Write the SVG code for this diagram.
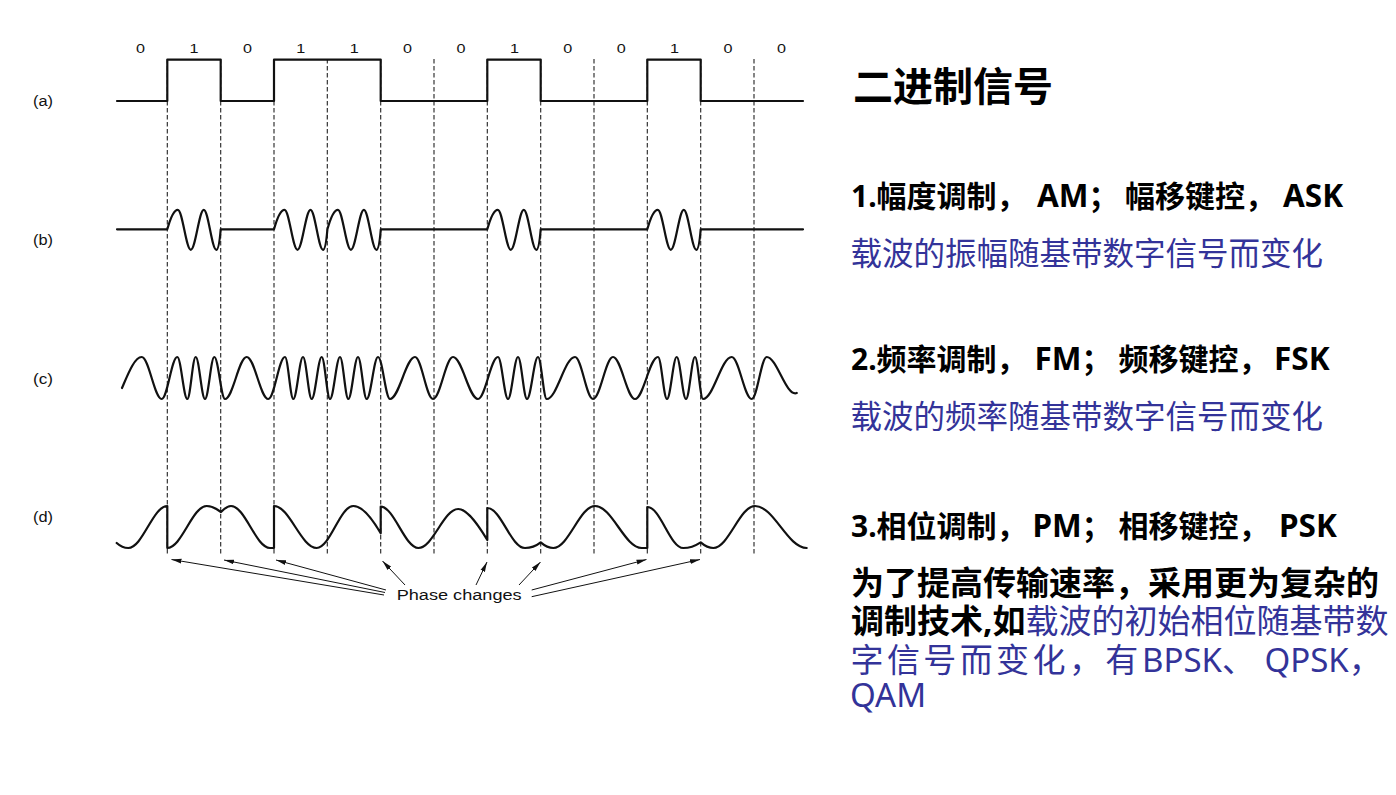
<svg xmlns="http://www.w3.org/2000/svg" width="1396" height="795" viewBox="0 0 1396 795">
<defs>
<style>
.wave{fill:none;stroke:#111;stroke-width:2.2;stroke-linejoin:round;stroke-linecap:round}
.guide{stroke:#222;stroke-width:1.1;stroke-dasharray:4.5 2.5}
.arr{stroke:#111;stroke-width:1;fill:none}
.lab{font-family:'Liberation Sans',Arial,sans-serif;font-size:14px;fill:#111}
.bit{font-family:'Liberation Sans',Arial,sans-serif;font-size:13px;fill:#111;text-anchor:middle}
.cn{font-family:'Noto Sans','Noto Sans CJK SC',sans-serif}
.bold{font-weight:bold;fill:#000}
.blue{fill:#333399;font-weight:normal}
.lat{font-size:31.5px}
</style>
<marker id="ah" markerWidth="10" markerHeight="6" refX="10" refY="3" orient="auto" markerUnits="userSpaceOnUse">
<path d="M0,0.6 L10,3 L0,5.4 z" fill="#111"/>
</marker>
</defs>
<rect width="1396" height="795" fill="#fff"/>

<g id="guides">
<line class="guide" x1="167.3" y1="59" x2="167.3" y2="556"/>
<line class="guide" x1="220.7" y1="59" x2="220.7" y2="556"/>
<line class="guide" x1="274" y1="59" x2="274" y2="556"/>
<line class="guide" x1="327.3" y1="59" x2="327.3" y2="556"/>
<line class="guide" x1="380.7" y1="59" x2="380.7" y2="556"/>
<line class="guide" x1="434" y1="59" x2="434" y2="556"/>
<line class="guide" x1="487.3" y1="59" x2="487.3" y2="556"/>
<line class="guide" x1="540.7" y1="59" x2="540.7" y2="556"/>
<line class="guide" x1="594" y1="59" x2="594" y2="556"/>
<line class="guide" x1="647.3" y1="59" x2="647.3" y2="556"/>
<line class="guide" x1="700.7" y1="59" x2="700.7" y2="556"/>
<line class="guide" x1="754" y1="59" x2="754" y2="556"/>
</g>

<g id="bits">
<text class="bit" x="140.6" y="53" textLength="9" lengthAdjust="spacingAndGlyphs">0</text>
<text class="bit" x="194" y="53" textLength="9" lengthAdjust="spacingAndGlyphs">1</text>
<text class="bit" x="247.4" y="53" textLength="9" lengthAdjust="spacingAndGlyphs">0</text>
<text class="bit" x="300.8" y="53" textLength="9" lengthAdjust="spacingAndGlyphs">1</text>
<text class="bit" x="354.2" y="53" textLength="9" lengthAdjust="spacingAndGlyphs">1</text>
<text class="bit" x="407.6" y="53" textLength="9" lengthAdjust="spacingAndGlyphs">0</text>
<text class="bit" x="461" y="53" textLength="9" lengthAdjust="spacingAndGlyphs">0</text>
<text class="bit" x="514.4" y="53" textLength="9" lengthAdjust="spacingAndGlyphs">1</text>
<text class="bit" x="567.8" y="53" textLength="9" lengthAdjust="spacingAndGlyphs">0</text>
<text class="bit" x="621.2" y="53" textLength="9" lengthAdjust="spacingAndGlyphs">0</text>
<text class="bit" x="674.6" y="53" textLength="9" lengthAdjust="spacingAndGlyphs">1</text>
<text class="bit" x="728" y="53" textLength="9" lengthAdjust="spacingAndGlyphs">0</text>
<text class="bit" x="781.4" y="53" textLength="9" lengthAdjust="spacingAndGlyphs">0</text>
</g>

<g id="signal-a">
<text class="lab" x="33" y="106.4" textLength="20" lengthAdjust="spacingAndGlyphs">(a)</text>
<path class="wave" d="M117 101 H167.3 V59.7 H220.7 V101 H274 V59.7 H380.7 V101 H487.3 V59.7 H540.7 V101 H647.3 V59.7 H700.7 V101 H803"/>
</g>

<g id="signal-b">
<text class="lab" x="33" y="245.4" textLength="20" lengthAdjust="spacingAndGlyphs">(b)</text>
<path class="wave" d="M117 229.3 H167.3 c2.5 -9 6.5 -19.5 10.5 -19.5 c4.7 0 8.3 40 13 40 c4.7 0 8.3 -40 13 -40 c4.5 0 8 40 12.5 40 c2 0 3.5 -10 4.4 -20.5 H274 c2.5 -9 6.5 -19.5 10.5 -19.5 c4.7 0 8.3 40 13 40 c4.7 0 8.3 -40 13 -40 c4.5 0 8 40 12.5 40 c2 0 3.5 -10 4.4 -20.5 c2.5 -9 6.5 -19.5 10.5 -19.5 c4.7 0 8.3 40 13 40 c4.7 0 8.3 -40 13 -40 c4.5 0 8 40 12.5 40 c2 0 3.5 -10 4.4 -20.5 H487.3 c2.5 -9 6.5 -19.5 10.5 -19.5 c4.7 0 8.3 40 13 40 c4.7 0 8.3 -40 13 -40 c4.5 0 8 40 12.5 40 c2 0 3.5 -10 4.4 -20.5 H647.3 c2.5 -9 6.5 -19.5 10.5 -19.5 c4.7 0 8.3 40 13 40 c4.7 0 8.3 -40 13 -40 c4.5 0 8 40 12.5 40 c2 0 3.5 -10 4.4 -20.5 H803"/>
</g>

<g id="signal-c">
<text class="lab" x="33" y="383.8" textLength="20" lengthAdjust="spacingAndGlyphs">(c)</text>
<path class="wave" d="M122 388 C128 374 134.5 357 141.7 357 C149 357 154.4 399 161.7 399 C167.4 399 171.6 357 177.3 357 C180.9 357 183.7 399 187.3 399 C190.4 399 192.6 357 195.7 357 C199.1 357 201.6 399 205 399 C208.4 399 210.9 357 214.3 357 C218.2 357 221.1 399 225 399 C232.9 399 238.8 357 246.7 357 C254.6 357 260.4 399 268.3 399 C274.4 399 278.9 357 285 357 C288 357 290.3 399 293.3 399 C296.8 399 299.5 357 303 357 C306.2 357 308.5 399 311.7 399 C315.3 399 318.1 357 321.7 357 C324.7 357 327 399 330 399 C333.6 399 336.4 357 340 357 C343 357 345.3 399 348.3 399 C351.8 399 354.5 357 358 357 C361.2 357 363.5 399 366.7 399 C370.8 399 373.9 357 378 357 C382.4 357 385.6 399 390 399 C399.1 399 405.9 357 415 357 C421.6 357 426.4 399 433 399 C440.3 399 445.7 357 453 357 C462.1 357 468.9 399 478 399 C485.3 399 490.7 357 498 357 C501.6 357 504.4 399 508 399 C511.6 399 514.4 357 518 357 C521.3 357 523.7 399 527 399 C531 399 534 357 538 357 C541.2 357 543.5 399 546.7 399 C557 399 564.7 357 575 357 C581.6 357 586.4 399 593 399 C600.3 399 605.7 357 613 357 C621 357 627 399 635 399 C643.4 399 649.6 357 658 357 C661.3 357 663.7 399 667 399 C670.5 399 673.2 357 676.7 357 C680.1 357 682.6 399 686 399 C689.3 399 691.7 357 695 357 C697.9 357 700.1 399 703 399 C713.4 399 721.3 357 731.7 357 C739 357 744.4 399 751.7 399 C757.2 399 761.2 357 766.7 357 C777 357 786 397 796.7 393"/>
</g>

<g id="signal-d">
<text class="lab" x="33" y="522" textLength="20" lengthAdjust="spacingAndGlyphs">(d)</text>
<path class="wave" d="M116.7 543 C120 546 124 548 128.3 548 C142.5 548 153 506 167.3 506 L167.3 548 C181.6 548 192.4 506 206.7 506 C212 506 217 509 221 512 C224 509 227 506 231 506 C245 506 256 548 270 548 L274 548 L274 506 C289.5 506 301.2 548 316.7 548 C330 548 340 506 353.3 506 C363 506 373 520 380.7 533.3 L380.7 506.7 C394 506.7 405 548 418.3 548 C432.9 548 443.7 509 458.3 509 C468 509 480 528 487.3 540 L487.3 508 C501 508 511 548 525 548 C531 548 536 546 540.7 542.3 C545 546 549 548 553.3 548 C568.5 548 579.8 506 595 506 C612 506 624.7 548 641.7 548 L647.3 548 L647.3 507 C660.5 507 670 548 683.3 548 C689 548 695 546 700.7 542.3 C705 546 709 548 713.3 548 C728.5 548 739.8 506 755 506 C774 506 787.5 548 806.7 548"/>
</g>

<g id="phase-label">
<text class="lab" x="396.7" y="600" textLength="125" lengthAdjust="spacingAndGlyphs">Phase changes</text>
</g>

<g id="connectors">
<line class="arr" x1="384" y1="595" x2="171.5" y2="559.5" marker-end="url(#ah)"/>
<line class="arr" x1="385" y1="592.5" x2="224" y2="560" marker-end="url(#ah)"/>
<line class="arr" x1="386" y1="590" x2="276" y2="560" marker-end="url(#ah)"/>
<line class="arr" x1="405" y1="585" x2="382.5" y2="561" marker-end="url(#ah)"/>
<line class="arr" x1="476" y1="585" x2="487" y2="562" marker-end="url(#ah)"/>
<line class="arr" x1="519" y1="585" x2="540.5" y2="562" marker-end="url(#ah)"/>
<line class="arr" x1="531.7" y1="590" x2="646.5" y2="559.5" marker-end="url(#ah)"/>
<line class="arr" x1="531.7" y1="596.7" x2="700" y2="559.5" marker-end="url(#ah)"/>
</g>

<g id="title">
<text class="cn bold" x="853" y="100.5" font-size="40">二进制信号</text>
</g>

<g id="ask">
<text class="cn bold" y="206.5" font-size="30"><tspan x="851">1.幅度调制，</tspan><tspan x="1037" class="lat">AM</tspan><tspan>；</tspan><tspan x="1125">幅移键控，</tspan><tspan x="1283" class="lat">ASK</tspan></text>
<text class="cn blue" x="850.5" y="265" font-size="31.5">载波的振幅随基带数字信号而变化</text>
</g>

<g id="fsk">
<text class="cn bold" y="369.5" font-size="30"><tspan x="851">2.频率调制，</tspan><tspan x="1034.5" class="lat">FM</tspan><tspan>；</tspan><tspan x="1118.5">频移键控，</tspan><tspan x="1274" class="lat">FSK</tspan></text>
<text class="cn blue" x="850.5" y="428" font-size="31.5">载波的频率随基带数字信号而变化</text>
</g>

<g id="psk">
<text class="cn bold" y="536.7" font-size="30"><tspan x="851">3.相位调制，</tspan><tspan x="1032.5" class="lat">PM</tspan><tspan>；</tspan><tspan x="1118.5">相移键控，</tspan><tspan x="1279" class="lat">PSK</tspan></text>
<text class="cn bold" x="851" y="594.5" font-size="33">为了提高传输速率，采用更为复杂的</text>
<text class="cn bold" x="851" y="633" font-size="33">调制技术,如<tspan class="blue">载波的初始相位随基带数</tspan></text>
<text class="cn blue" y="671.7" font-size="33"><tspan x="850.5" letter-spacing="3.4">字信号而变化，有</tspan><tspan x="1142">BPSK、</tspan><tspan x="1264.5">QPSK，</tspan></text>
<text class="cn blue" x="850" y="707" font-size="33">QAM</text>
</g>
</svg>
